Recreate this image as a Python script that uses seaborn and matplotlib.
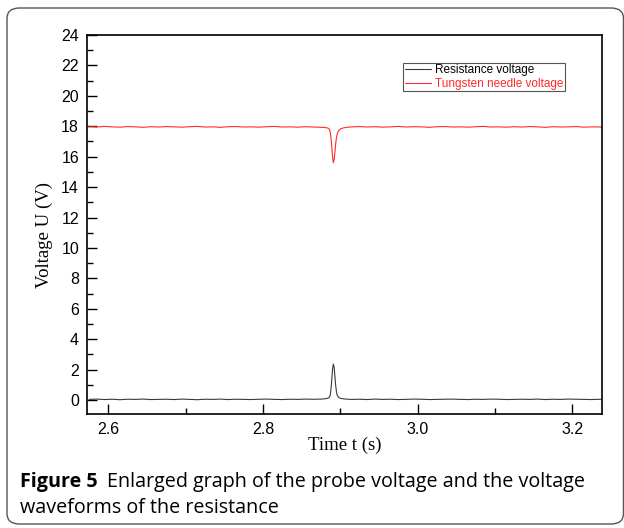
import numpy as np
import pandas as pd
import matplotlib
matplotlib.use("Agg")
import matplotlib.pyplot as plt
from matplotlib.patches import FancyBboxPatch
from matplotlib.ticker import MultipleLocator
import seaborn as sns

# ---------------- data ----------------
time_left = [2.575, 2.585, 2.595, 2.605, 2.615, 2.625, 2.635, 2.645, 2.655, 2.665,
             2.675, 2.685, 2.695, 2.705, 2.715, 2.725, 2.735, 2.745, 2.755, 2.765,
             2.775, 2.785, 2.795, 2.805, 2.815, 2.825, 2.835, 2.845, 2.855, 2.865, 2.875]
time_peak = [2.880, 2.884, 2.886, 2.887, 2.888, 2.889, 2.890, 2.891, 2.892, 2.893,
             2.894, 2.895, 2.896, 2.898, 2.901, 2.905, 2.910]
time_right = [2.915, 2.925, 2.935, 2.945, 2.955, 2.965, 2.975, 2.985, 2.995, 3.005,
              3.015, 3.025, 3.035, 3.045, 3.055, 3.065, 3.075, 3.085, 3.095, 3.105,
              3.115, 3.125, 3.135, 3.145, 3.155, 3.165, 3.175, 3.185, 3.195, 3.205,
              3.215, 3.225, 3.238]

resistance_left = [0.04, 0.06, 0.03, 0.05, 0.02, 0.05, 0.04, 0.06, 0.03, 0.04,
                   0.05, 0.03, 0.06, 0.04, 0.02, 0.05, 0.04, 0.06, 0.03, 0.05,
                   0.04, 0.03, 0.05, 0.06, 0.04, 0.03, 0.05, 0.04, 0.06, 0.05, 0.06]
resistance_peak = [0.08, 0.12, 0.20, 0.32, 0.75, 1.40, 2.05, 2.37, 2.15, 1.55,
                   0.95, 0.55, 0.30, 0.16, 0.10, 0.07, 0.05]
resistance_right = [0.04, 0.05, 0.03, 0.06, 0.04, 0.05, 0.03, 0.04, 0.06, 0.05,
                    0.03, 0.04, 0.05, 0.06, 0.04, 0.03, 0.05, 0.04, 0.06, 0.05,
                    0.03, 0.04, 0.05, 0.04, 0.06, 0.03, 0.05, 0.04, 0.06, 0.05,
                    0.04, 0.03, 0.05]

needle_left = [17.97, 17.95, 17.99, 17.96, 17.94, 17.98, 17.96, 17.93, 17.97, 17.95,
               17.98, 17.96, 17.94, 17.97, 17.99, 17.95, 17.96, 17.93, 17.97, 17.98,
               17.95, 17.96, 17.94, 17.97, 17.99, 17.95, 17.96, 17.94, 17.97, 17.95, 17.93]
needle_peak = [17.92, 17.88, 17.80, 17.60, 17.20, 16.60, 15.95, 15.60, 15.80, 16.30,
               16.85, 17.25, 17.50, 17.72, 17.85, 17.90, 17.94]
needle_right = [17.96, 17.98, 17.95, 17.97, 17.94, 17.96, 17.99, 17.95, 17.97, 17.96,
                17.93, 17.97, 17.98, 17.95, 17.96, 17.94, 17.97, 17.99, 17.95, 17.96,
                17.94, 17.97, 17.95, 17.98, 17.96, 17.93, 17.97, 17.95, 17.96, 17.98,
                17.94, 17.96, 17.95]

series_names = ["Resistance voltage", "Tungsten needle voltage"]
series_colors = ["#3a3a3a", "#ff2a2a"]
x_ticks = [2.6, 2.8, 3.0, 3.2]
y_ticks = [0, 2, 4, 6, 8, 10, 12, 14, 16, 18, 20, 22, 24]

time = time_left + time_peak + time_right
resistance = resistance_left + resistance_peak + resistance_right
needle = needle_left + needle_peak + needle_right

df = pd.DataFrame({
    "t": time * 2,
    "U": resistance + needle,
    "series": [series_names[0]] * len(time) + [series_names[1]] * len(time),
})

# ---------------- figure ----------------
sns.set_style("white")
plt.rcParams["font.family"] = ["Liberation Sans", "DejaVu Sans"]

W, H = 624, 528
fig = plt.figure(figsize=(W / 100, H / 100), dpi=100)

# rounded border
border = FancyBboxPatch((7 / W, 4 / H), (623.5 - 7) / W, (520 - 4) / H,
                        boxstyle="round,pad=0,rounding_size=0.02",
                        transform=fig.transFigure, facecolor="none",
                        edgecolor="#555555", linewidth=1.0, clip_on=False)
fig.patches.append(border)

left, right, top, bottom = 86.7, 602.3, 35.0, 414.3
ax = fig.add_axes([left / W, 1 - bottom / H, (right - left) / W, (bottom - top) / H])

sns.lineplot(data=df, x="t", y="U", hue="series", palette=series_colors,
             hue_order=series_names, estimator=None, sort=False,
             linewidth=0.8, ax=ax, legend=False)

ax.set_xlim(2.572, 3.2388)
ax.set_ylim(-0.94, 24)
ax.set_xticks(x_ticks)
ax.set_xticklabels([f"{v:.1f}" for v in x_ticks])
ax.set_yticks(y_ticks)
ax.xaxis.set_minor_locator(MultipleLocator(0.1))
ax.yaxis.set_minor_locator(MultipleLocator(1))
ax.tick_params(axis="both", which="major", direction="in", length=7.5, width=1.0,
               labelsize=11.5, color="black", labelcolor="black")
ax.tick_params(axis="both", which="minor", direction="in", length=4.5, width=1.0,
               color="black")
ax.tick_params(axis="x", which="both", bottom=True, top=False, pad=5.5)
ax.tick_params(axis="y", which="both", left=True, right=False, pad=5.5)
for s in ax.spines.values():
    s.set_color("black")
    s.set_linewidth(1.2)

ax.set_xlabel("Time t (s)", fontsize=13.5, family=["Liberation Serif"], color="black")
ax.set_ylabel("Voltage U (V)", fontsize=13.5, family=["Liberation Serif"], color="black")
ax.xaxis.label.set_va("center")
ax.yaxis.label.set_va("center")
ax.xaxis.set_label_coords(0.5, -(445 - bottom) / (bottom - top))
ax.yaxis.set_label_coords(-(left - 44) / (right - left), (bottom - 235) / (bottom - top))

# legend
handles = [plt.Line2D([], [], color=c, linewidth=0.8) for c in series_colors]
leg = ax.legend(handles, series_names, loc="upper left",
                bbox_to_anchor=((403 - left) / (right - left), (bottom - 62.7) / (bottom - top)),
                fontsize=8.5, frameon=True, fancybox=False, framealpha=1,
                edgecolor="#555555", handlelength=2.2, handletextpad=0.35,
                labelspacing=0.1, borderpad=0.15, borderaxespad=0)
leg.get_frame().set_linewidth(0.8)
for txt, c in zip(leg.get_texts(), ["black", "#ff2a2a"]):
    txt.set_color(c)

# caption
cap_font = ["Open Sans", "DejaVu Sans"]
cap_size = 14.2
t1 = fig.text(20 / W, 1 - 487 / H, "Figure 5", fontsize=cap_size, fontweight="bold",
              family=cap_font, va="baseline", ha="left", color="black")
fig.canvas.draw()
bb = t1.get_window_extent()
fig.text((bb.x1 + 9) / W, 1 - 487 / H, "Enlarged graph of the probe voltage and the voltage",
         fontsize=cap_size, family=cap_font, va="baseline", ha="left", color="black")
fig.text(20 / W, 1 - 513 / H, "waveforms of the resistance",
         fontsize=cap_size, family=cap_font, va="baseline", ha="left", color="black")

fig.savefig("out.png", dpi=100)
